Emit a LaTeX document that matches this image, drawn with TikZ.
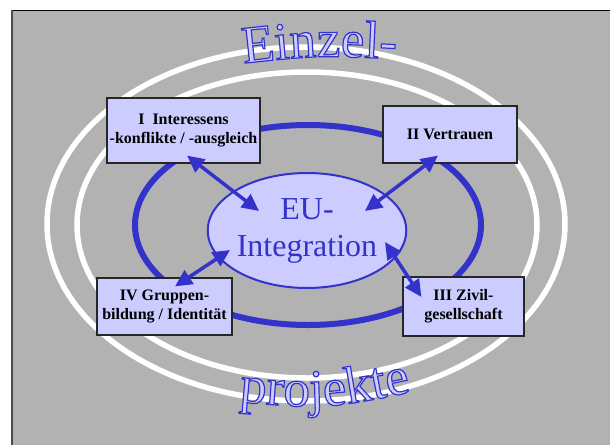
\documentclass[tikz,border=0pt]{standalone}
\usepackage{fontspec}
\setmainfont{Liberation Serif}
\usepackage{xcolor}
\usepackage{tikz}
\usetikzlibrary{arrows.meta,calc,shapes.geometric,decorations.text}

\definecolor{bgGray}{HTML}{B2B2B2}
\definecolor{euBlue}{HTML}{3333CC}
\definecolor{euLight}{HTML}{CCCCFF}
% outlined letter: light fill, blue stroke
\newcommand{\artchar}[1]{{\color{euLight}\special{pdf:literal direct 2 Tr 1.2 w 0.2 0.2 0.8 RG}#1\special{pdf:literal direct 0 Tr}}}

\tikzset{
  topic/.style={draw=black!85, line width=1.2pt, fill=euLight, inner sep=0pt,
    align=center, font=\fontsize{16}{19}\selectfont\bfseries},
  link/.style={draw=euBlue, line width=3.5pt,
    {Triangle[length=17pt,width=16pt]}-{Triangle[length=17pt,width=16pt]}},
  wordart/.style={decorate, decoration={text effects along path, text={#1},
    text align=center, text effects/.cd, text along path,
    character command=\artchar, characters={font=\fontsize{53}{53}\selectfont}}}
}

\begin{document}
\begin{tikzpicture}[x=1pt,y=-1pt]
    \useasboundingbox (0,0) rectangle (610,445);
    % slide background
    \fill[white] (0,0) rectangle (610,445);
    \fill[bgGray] (11,10) rectangle (610,445);
    \draw[black, line width=1pt] (11,10.5) -- (610,10.5);
    \draw[black!70, line width=2pt] (12,10) -- (12,445);

    % rings
    \draw[white, line width=5.5pt] (306,224) ellipse [x radius=259, y radius=177];
    \draw[white, line width=5.5pt] (307,225) ellipse [x radius=230, y radius=153];
    \draw[euBlue, line width=6pt] (308,225) ellipse [x radius=173, y radius=100];

    % centre
    \node[ellipse, draw=euBlue, line width=2pt, fill=euLight, inner sep=0pt,
          minimum width=192, minimum height=115, align=center, text=euBlue,
          font=\fontsize{32}{37}\selectfont] (eu) at (307,230.5) {EU-\\Integration};

    % four fields
    \node[topic, minimum width=153, minimum height=65] (konflikt) at (183.5,130.5)
        {I\ \ Interessens\\-konflikte / -ausgleich};
    \node[topic, minimum width=134, minimum height=57] (vertrauen) at (450,134.5)
        {II Vertrauen};
    \node[topic, minimum width=121, minimum height=59] (zivil) at (463.5,306.5)
        {III Zivil-\\gesellschaft};
    \node[topic, minimum width=135, minimum height=57] (gruppe) at (164.5,306.5)
        {IV Gruppen-\\bildung / Identit\"at};

    % arrows
    \draw[link] ($(konflikt.south)+(3.5,-8)$) -- ($(eu.center)+(-48,-19.5)$);
    \draw[link] ($(vertrauen.south)+(-12,-8)$) -- ($(eu.center)+(58,-19.5)$);
    \draw[link] ($(zivil.west)+(19,-9.5)$) -- ($(eu.center)+(78,11.5)$);
    \draw[link] ($(gruppe.north)+(10.5,9)$) -- ($(eu.center)+(-77,19.5)$);

    % word art
    \path[wordart={Einzel-}] (228,65) .. controls (320,55) .. (412,60);
    \path[wordart={projekte}] (220,400) .. controls (325,410) .. (430,388);
\end{tikzpicture}
\end{document}
